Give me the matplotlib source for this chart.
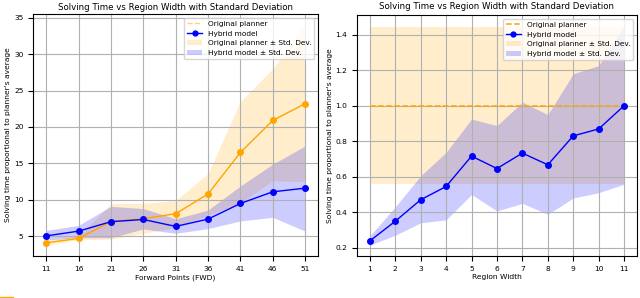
import matplotlib
matplotlib.use('Agg')
import matplotlib.pyplot as plt
from matplotlib.lines import Line2D
from matplotlib.patches import Patch, Rectangle

# ---- data: forward points ----
fwd = [11, 16, 21, 26, 31, 36, 41, 46, 51]
fwd_orig = [4.1, 4.7, 7.0, 7.4, 8.1, 10.8, 16.5, 20.9, 23.2]
fwd_orig_lo = [3.8, 4.5, 4.6, 5.4, 6.2, 7.9, 9.6, 12.6, 12.5]
fwd_orig_hi = [4.5, 5.0, 9.5, 9.5, 9.9, 13.6, 23.5, 28.0, 34.0]
fwd_hyb = [5.05, 5.7, 7.0, 7.3, 6.35, 7.35, 9.5, 11.1, 11.6]
fwd_hyb_lo = [4.5, 4.8, 4.8, 6.0, 5.4, 6.05, 7.1, 7.6, 5.7]
fwd_hyb_hi = [5.8, 6.5, 9.1, 8.8, 7.4, 8.6, 11.9, 14.9, 17.4]

# ---- data: region width ----
width = [1, 2, 3, 4, 5, 6, 7, 8, 9, 10, 11]
rw_orig = [1.0] * 11
rw_orig_lo = [0.557] * 11
rw_orig_hi = [1.445] * 11
rw_hyb = [0.238, 0.349, 0.47, 0.545, 0.716, 0.646, 0.733, 0.667, 0.83, 0.869, 1.0]
rw_hyb_lo = [0.215, 0.27, 0.34, 0.357, 0.50, 0.407, 0.45, 0.388, 0.48, 0.51, 0.558]
rw_hyb_hi = [0.266, 0.43, 0.605, 0.737, 0.925, 0.888, 1.02, 0.95, 1.18, 1.226, 1.45]

TITLE = "Solving Time vs Region Width with Standard Deviation"
YLAB = "Solving time proportional to planner's average"

plt.rcParams.update({'font.size': 5.4})

fig = plt.figure(figsize=(6.4, 2.98), dpi=100)
ax1 = fig.add_axes([0.052, 0.141, 0.445, 0.812])
ax2 = fig.add_axes([0.558, 0.141, 0.437, 0.809])

# left panel
ax1.fill_between(fwd, fwd_orig_lo, fwd_orig_hi, color='orange', alpha=0.2, lw=0)
ax1.fill_between(fwd, fwd_hyb_lo, fwd_hyb_hi, color='blue', alpha=0.2, lw=0)
ax1.plot(fwd, fwd_orig, color='orange', marker='o', ms=4, lw=1.0)
ax1.plot(fwd, fwd_hyb, color='blue', marker='o', ms=4, lw=1.0)
ax1.set_xticks(fwd)
ax1.set_xlabel("Forward Points (FWD)", labelpad=2)
ax1.set_ylabel(YLAB, labelpad=2)
ax1.set_title(TITLE, fontsize=6.2, pad=3)
ax1.grid(True)
handles1 = [
    Line2D([], [], color='orange', ls='--', lw=1.0, alpha=0.5),
    Line2D([], [], color='blue', marker='o', ms=3.5, lw=1.0),
    Patch(facecolor='orange', alpha=0.2),
    Patch(facecolor='blue', alpha=0.2),
]
labels = ["Original planner", "Hybrid model",
          "Original planner \u00b1 Std. Dev.", "Hybrid model \u00b1 Std. Dev."]
ax1.legend(handles1, labels, loc='upper right', fontsize=5.3)

# right panel
ax2.fill_between(width, rw_orig_lo, rw_orig_hi, color='orange', alpha=0.2, lw=0)
ax2.fill_between(width, rw_hyb_lo, rw_hyb_hi, color='blue', alpha=0.2, lw=0)
ax2.plot(width, rw_orig, color='orange', ls='--', lw=1.1)
ax2.plot(width, rw_hyb, color='blue', marker='o', ms=4, lw=1.0)
ax2.set_xticks(width)
ax2.set_xlabel("Region Width", labelpad=2)
ax2.set_ylabel(YLAB, labelpad=2)
ax2.set_title(TITLE, fontsize=6.2, pad=4)
ax2.grid(True)
handles2 = [
    Line2D([], [], color='orange', ls='--', lw=1.1),
    Line2D([], [], color='blue', marker='o', ms=3.5, lw=1.0),
    Patch(facecolor='orange', alpha=0.2),
    Patch(facecolor='blue', alpha=0.2),
]
ax2.legend(handles2, labels, loc='upper right', fontsize=5.3)

# small leftover mark at bottom-left corner
fig.patches.append(Rectangle((0, 0), 0.02, 0.005, transform=fig.transFigure,
                             color='orange'))

fig.savefig("out.png", dpi=100)
